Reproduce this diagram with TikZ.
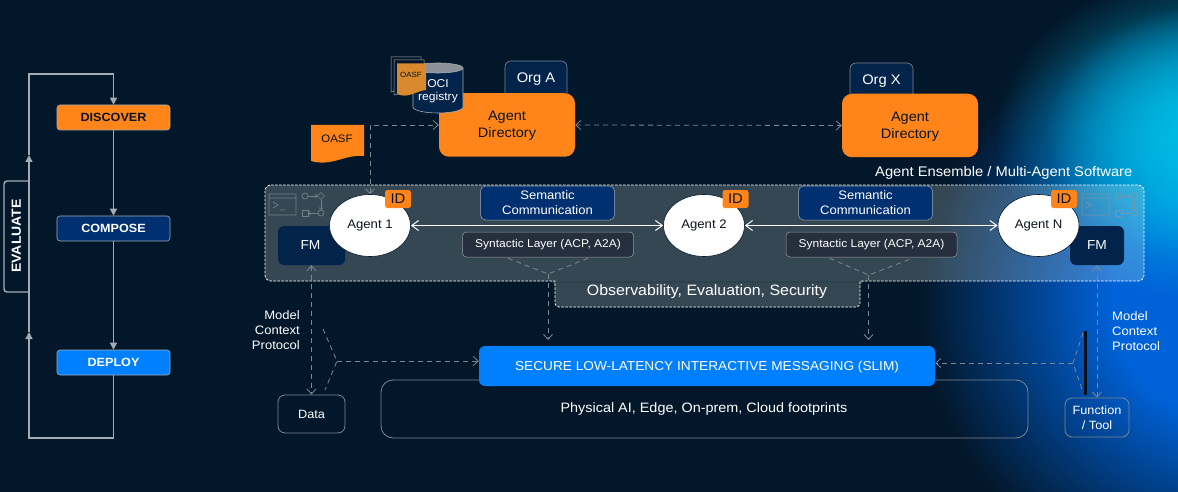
\documentclass[tikz,border=0pt]{standalone}
\usepackage{fontspec}
\setmainfont{Liberation Sans}[FakeStretch=1.06]
\usetikzlibrary{arrows.meta,fadings,calc,shapes.geometric}
\definecolor{bgc}{HTML}{03172A}
\definecolor{orng}{HTML}{FF851A}
\definecolor{navyb}{HTML}{00306F}
\definecolor{deep}{HTML}{02234A}
\definecolor{slimc}{HTML}{0080FF}
\definecolor{synt}{HTML}{262F3D}
\definecolor{edgeg}{HTML}{7E8690}
\definecolor{loopg}{HTML}{A3ABB3}
\definecolor{icong}{HTML}{8A949C}
\definecolor{darktx}{HTML}{0A1420}
\definecolor{docb}{HTML}{D98A2E}
\definecolor{panelc}{HTML}{E6F2E6}
\definecolor{glowb}{HTML}{0062D8}
\definecolor{glowc}{HTML}{00BEE6}
\pgfdeclareradialshading{glowblue}{\pgfpointorigin}{color(0bp)=(glowb); color(10bp)=(glowb); color(25bp)=(bgc); color(50bp)=(bgc)}
\tikzfading[name=softglow, inner color=transparent!0, middle color=transparent!100, outer color=transparent!100]
\tikzset{
  box/.style={rectangle,inner sep=0pt,align=center,text=white},
  stage/.style={box,rounded corners=3pt,minimum width=113pt,minimum height=25pt,draw=loopg,line width=.6pt,font=\fontsize{11.9}{14}\selectfont\bfseries},
  orgtab/.style={box,rounded corners=6pt,fill=deep,draw=edgeg,line width=.6pt,minimum height=40pt},
  orgtx/.style={box,font=\fontsize{13.9}{16}\selectfont},
  dirbox/.style={box,rounded corners=10pt,fill=orng,minimum width=136pt,minimum height=63.5pt},
  dirtx/.style={box,text=darktx,font=\fontsize{13.7}{17}\selectfont},
  agent/.style={ellipse,inner sep=0pt,fill=white,draw=bgc,line width=.6pt,text=darktx,minimum width=81pt,minimum height=62pt,font=\fontsize{12.4}{15}\selectfont},
  idtag/.style={box,rounded corners=2.5pt,fill=orng,text=darktx,minimum width=26pt,minimum height=18pt,font=\fontsize{14}{15}\selectfont},
  fmbox/.style={box,rounded corners=6pt,fill=deep,minimum height=39pt,font=\fontsize{13}{15}\selectfont},
  sembox/.style={box,rounded corners=5pt,fill=navyb,draw=edgeg!70,line width=.5pt,minimum width=134pt,minimum height=34pt,font=\fontsize{12.3}{15}\selectfont},
  synbox/.style={box,rounded corners=4pt,fill=synt,draw=edgeg!80,line width=.5pt,minimum width=171pt,minimum height=25pt},
  syntx/.style={box,font=\fontsize{11.3}{13}\selectfont},
  outl/.style={box,rounded corners=7pt,draw=edgeg,line width=.8pt,font=\fontsize{12}{15}\selectfont},
  lbl/.style={box,font=\fontsize{12.3}{15}\selectfont},
  dashc/.style={draw=edgeg,line width=.8pt,dash pattern=on 5pt off 4pt},
  barb/.style={arrows={-Straight Barb[length=5pt,width=9pt]}},
  barbb/.style={arrows={Straight Barb[length=5pt,width=9pt]-Straight Barb[length=5pt,width=9pt]}},
  solidw/.style={draw=white,line width=1pt,arrows={Straight Barb[length=7pt,width=10pt]-Straight Barb[length=7pt,width=10pt]}},
  loopl/.style={draw=loopg,line width=1.4pt},
  looptip/.style={arrows={-Triangle[length=7pt,width=7pt]}},
  icon/.style={draw=icong,line width=.7pt,opacity=.75},
  icona/.style={icon,arrows={-Straight Barb[length=2pt,width=4pt]}},
}
\newcommand{\flowicon}[2]{%
  \begin{scope}[shift={(#1,#2)}]
    \draw[icon] (0,0) rectangle (27,21) (0,4) -- (27,4) (4,8) -- (9,11) -- (4,14) (11,16) -- (16,16);
    \draw[icon] (36,2) circle (3);
    \draw[icon] (52,-1.5) -- (55.5,2) -- (52,5.5) -- (48.5,2) -- cycle;
    \draw[icona] (39,2) -- (48.5,2);
    \draw[icona] (52,5.5) -- (52,16);
    \draw[icon] (52,19) circle (3);
    \draw[icon] (33,16) rectangle (39,22);
    \draw[icona] (49,19) -- (39,19);
  \end{scope}}
\begin{document}
\begin{tikzpicture}[x=1pt,y=-1pt]
\useasboundingbox (0,0) rectangle (1178,492);
\fill[bgc] (0,0) rectangle (1178,492);
\begin{scope}
  \clip (0,0) rectangle (1178,492);
  \shade[shading=glowblue] (1240,300) ellipse (320 and 300);
  \fill[glowc,path fading=softglow] (1215,135) ellipse (220 and 165);
  \fill[glowc,path fading=softglow] (1215,135) ellipse (170 and 130);
\end{scope}

% ensemble panel
\path[fill=panelc,fill opacity=.22,rounded corners=6pt]
  (265,185) -- (1144,185) -- (1144,281) -- (860,281) -- (860,307) -- (555,307) -- (555,281) -- (265,281) -- cycle;
\draw[white,line width=.8pt,dash pattern=on 2.5pt off 1.5pt,rounded corners=6pt]
  (265,185) -- (1144,185) -- (1144,281) [sharp corners] -- (860,281) [rounded corners=4pt] -- (860,307) -- (555,307) [sharp corners] -- (555,281) [rounded corners=6pt] -- (265,281) -- cycle;
\fill[black,opacity=.08] (556,281) rectangle (859,283);
\flowicon{269}{194}
\flowicon{1082}{194}

% left loop
\node[stage,fill=orng,text=darktx] (discover) at (113.5,117.5) {DISCOVER};
\node[stage,fill=navyb] (compose) at (113.5,228.5) {COMPOSE};
\node[stage,fill=slimc] (deploy) at (113.5,362.5) {DEPLOY};
\coordinate (lb) at (29,438);
\coordinate (lm1) at (29,332);
\coordinate (lm2) at (29,155);
\coordinate (lt) at (29,74);
\draw[loopl] (4,236) ++(25,-55) -- ++(-20,0) [rounded corners=3pt] -- ++(-5,0) -- (4,292) -- (29,292);
\node[box,rotate=90,font=\fontsize{13.2}{16}\selectfont\bfseries] (evaluate) at (16.5,236) {EVALUATE};
\draw[loopl,looptip] (discover.south) -- (compose.north);
\draw[loopl,looptip] (compose.south) -- (deploy.north);
\draw[loopl,looptip] (deploy.south) |- (lb) -- (lm1);
\draw[loopl,looptip] (lm1) -- (lm2);
\draw[loopl,looptip] (lm2) -- (lt) -| (discover.north);

% directories
\node[orgtab,minimum width=62pt] (orgA) at (536,81) {};
\node[orgtx] (orgAtx) at (536,79.5) {Org A};
\node[orgtab,minimum width=63pt] (orgX) at (881.5,83) {};
\node[orgtx] (orgXtx) at (881.5,81.5) {Org X};
\node[dirbox] (dirA) at (507,125) {};
\node[dirtx] (dirAtx) at (507,126) {Agent\\Directory};
\node[dirbox] (dirX) at (910,125.5) {};
\node[dirtx] (dirXtx) at (910,126.5) {Agent\\Directory};

% OCI registry cylinder
\fill[fill=deep,draw=loopg,line width=.6pt] (413,68) -- (413,107) arc[start angle=180,end angle=360,x radius=25,y radius=-6] -- (463,68) -- cycle;
\fill[fill=loopg!85!black,draw=loopg,line width=.6pt] (438,68) ellipse (25 and 5);
\node[box,font=\fontsize{11.4}{13.5}\selectfont] (oci) at (438,91) {OCI\\registry};
% stacked documents
\filldraw[fill=bgc,draw=loopg,line width=.5pt] (391,57) -- (421,57) -- (421,85) -- (391,92) -- cycle;
\filldraw[fill=bgc,draw=loopg,line width=.5pt] (394,60) -- (424,60) -- (424,88) -- (394,95) -- cycle;
\fill[docb] (397,63.5) -- (426,63.5) -- (426,90) .. controls (416,91) and (408,99) .. (397,94) -- cycle;
\node[box,text=darktx,font=\fontsize{7.5}{9}\selectfont] (ociDoc) at (411,75) {OASF};
% OASF document
\fill[orng] (311,125) -- (364,125) -- (364,156) .. controls (345,154) and (332,167) .. (311,161) -- cycle;
\node[box,text=darktx,font=\fontsize{10.8}{14}\selectfont] (oasf) at (337,139) {OASF};

% ensemble label
\node[box,anchor=west,font=\fontsize{13.9}{15}\selectfont] (ensemble) at (875,173) {Agent Ensemble / Multi-Agent Software};

% FM
\node[fmbox,minimum width=67pt] (fmL) at (311.5,245.5) {};
\node[box,font=\fontsize{13}{15}\selectfont] (fmLtx) at (310.5,245.5) {FM};
\node[fmbox,minimum width=54pt] (fmR) at (1097,245.5) {FM};

% layers
\node[sembox] (sem1) at (547.5,203) {Semantic\\Communication};
\node[sembox] (sem2) at (865.5,203) {Semantic\\Communication};
\node[synbox] (syn1) at (548,244.5) {};
\node[syntx] (syn1tx) at (548,245) {Syntactic Layer (ACP, A2A)};
\node[synbox] (syn2) at (871.5,244.5) {};
\node[syntx] (syn2tx) at (871.5,245) {Syntactic Layer (ACP, A2A)};

% agents
\node[agent] (ag1) at (370,225.5) {Agent 1};
\node[agent] (ag2) at (704,225.5) {Agent 2};
\node[agent] (agN) at (1038.5,225.5) {Agent N};
\node[idtag] (id1) at (398,199) {ID};
\node[idtag] (id2) at (735.5,199) {ID};
\node[idtag] (idN) at (1064,199) {ID};

\draw[solidw] (ag1.east) -- (ag2.west);
\draw[solidw] (ag2.east) -- (agN.west);

% observability
\node[box,font=\fontsize{15}{18}\selectfont] (obs) at (707,292) {Observability, Evaluation, Security};

% slim and platform
\node[outl,rounded corners=12pt,minimum width=647pt,minimum height=58pt] (plat) at (704.5,409) {};
\node[box,font=\fontsize{13.6}{16}\selectfont] (platText) at (704,408.5) {Physical AI, Edge, On-prem, Cloud footprints};
\node[box,rounded corners=6pt,fill=slimc,minimum width=456pt,minimum height=40pt] (slim) at (707,366) {};
\node[box,font=\fontsize{12.9}{16}\selectfont] (slimtx) at (707,367) {SECURE LOW-LATENCY INTERACTIVE MESSAGING (SLIM)};
\node[outl,minimum width=67pt,minimum height=38pt] (data) at (311.5,414) {Data};
\node[outl,minimum width=64pt,minimum height=39pt] (tool) at (1097,417.5) {Function\\/ Tool};

% connectors
\draw[dashc,barbb] (dirA.east) -- (dirX.west);
\draw[dashc,barbb] (ag1.north) |- (dirA.west);
\draw[dashc,barbb] (fmL.south) -- (data.north);
\draw[dashc,barbb] (fmR.south) -- (tool.north);

\coordinate (f1) at (548,274);
\coordinate (f2) at (868.5,275);
\coordinate (s1) at (548,346);
\coordinate (s2) at (868.5,346);
\draw[dashc] ($(syn1.south)+(-40,1)$) -- (f1) -- ($(syn1.south)+(40,1)$);
\draw[dashc] ($(syn2.south)+(-42,1)$) -- (f2) -- ($(syn2.south)+(41,1)$);
\draw[dashc,barb,shorten >=6pt] (f1) -- (s1);
\draw[dashc,barb,shorten >=6pt] (f2) -- (s2);

\coordinate (gl) at (337,361);
\coordinate (gl1) at (323,329);
\coordinate (gl2) at (325,390);
\draw[dashc] (gl1) -- (gl) -- (gl2);
\draw[dashc,barb] (gl) -- (gl -| slim.west);
\coordinate (gr) at (1073,363);
\coordinate (gr1) at (1083,333);
\coordinate (gr2) at (1083,392);
\draw[dashc] (gr1) -- (gr) -- (gr2);
\draw[dashc,barb] (gr) -- (gr -| slim.east);
\coordinate (bar1) at (1085.5,331);
\coordinate (bar2) at (1085.5,395);
\draw[bgc!70!black,line width=2.6pt] (bar1) -- (bar2);

\node[lbl,anchor=east,align=right] (mcpL) at (300,330.5) {Model\\Context\\Protocol};
\node[lbl,anchor=west,align=left] (mcpR) at (1112,331) {Model\\Context\\Protocol};
\end{tikzpicture}
\end{document}
